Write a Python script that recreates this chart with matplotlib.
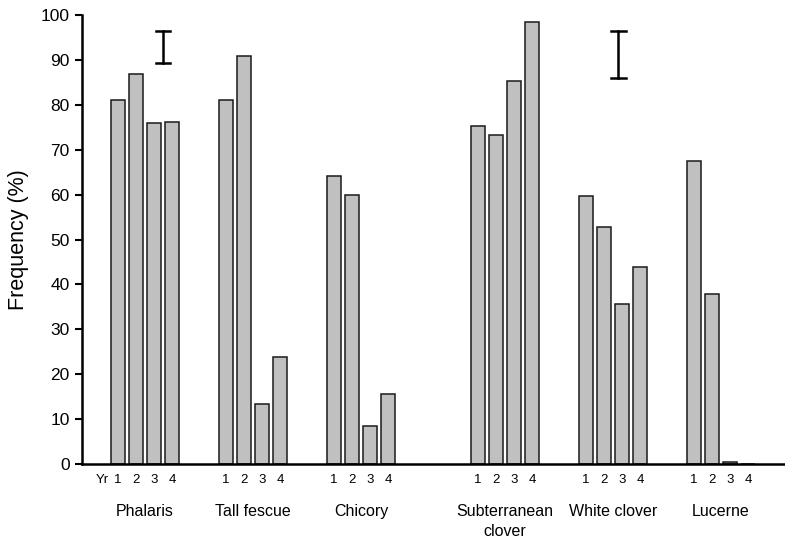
import matplotlib.pyplot as plt
import numpy as np

plt.rcParams['font.family'] = ['Liberation Sans', 'DejaVu Sans']

species = ['Phalaris', 'Tall fescue', 'Chicory', 'Subterranean\nclover', 'White clover', 'Lucerne']
years = ['1', '2', '3', '4']
freq = [
    [81.0, 87.0, 76.0, 76.2],   # Phalaris
    [81.0, 90.8, 13.3, 23.8],   # Tall fescue
    [64.2, 60.0, 8.5, 15.5],    # Chicory
    [75.3, 73.2, 85.3, 98.5],   # Subterranean clover
    [59.7, 52.8, 35.7, 43.8],   # White clover
    [67.5, 37.8, 0.4, 0.0],     # Lucerne
]
# LSD bars (grasses, legumes)
lsd_low = [89.3, 86.0]
lsd_high = [96.4, 96.4]

group_start = [0, 6, 12, 20, 26, 32]

fig = plt.figure(figsize=(7.85, 5.42), dpi=100)
ax = fig.add_axes([0.1045, 0.144, 0.8955, 0.828])

for g, vals in enumerate(freq):
    xs = group_start[g] + np.arange(len(vals))
    ax.bar(xs, vals, width=0.78, color='#c0c0c0', edgecolor='#1a1a1a', linewidth=1.1)
    for x, lab in zip(xs, years):
        ax.text(x, -2.2, lab, ha='center', va='top', fontsize=9.5)
    ax.text(xs.mean(), -9.0, species[g], ha='center', va='top', fontsize=11.5,
            linespacing=1.35)

ax.text(-0.85, -2.2, 'Yr', ha='center', va='top', fontsize=9.5)

# error bars
lsd_x = [2.5, 27.8]
for x, lo, hi in zip(lsd_x, lsd_low, lsd_high):
    ax.plot([x, x], [lo, hi], color='black', lw=1.8)
    ax.plot([x - 0.4, x + 0.4], [lo, lo], color='black', lw=1.8)
    ax.plot([x - 0.4, x + 0.4], [hi, hi], color='black', lw=1.8)

ax.set_xlim(-2, 37.06)
ax.set_ylim(0, 100)
ax.set_yticks(np.arange(0, 101, 10))
ax.set_xticks([])
ax.spines['top'].set_visible(False)
ax.spines['right'].set_visible(False)
ax.spines['left'].set_linewidth(1.8)
ax.spines['bottom'].set_linewidth(1.8)
ax.tick_params(axis='y', direction='out', length=5, width=1.5, labelsize=12.5, pad=4)
ax.set_ylabel('Frequency (%)', fontsize=15.5, labelpad=8)

fig.savefig('out.png', dpi=100)
